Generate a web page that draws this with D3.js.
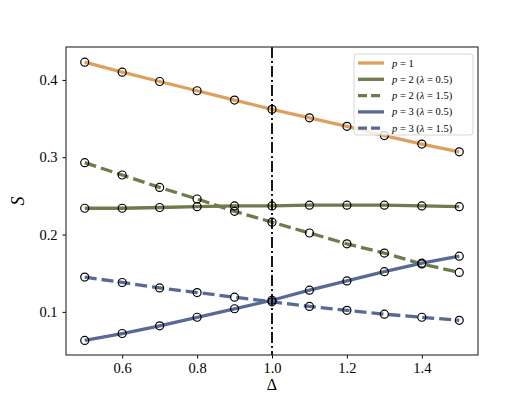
<!DOCTYPE html>
<html>
<head>
<meta charset="utf-8">
<script src="https://d3js.org/d3.v7.min.js"></script>
<style>
  body { margin: 0; background: #fff; }
  svg text { font-family: 'Liberation Serif', 'Times New Roman', serif; fill: #000; }
  .tick text { font-size: 14.5px; }
  .tick line { stroke: #000; }
</style>
</head>
<body>
<svg id="chart"></svg>
<script>
const WIDTH  = 531;
const HEIGHT = 399;
const MARGIN = { top: 47, right: 53, bottom: 44, left: 66 };
const INNER_WIDTH  = WIDTH - MARGIN.left - MARGIN.right;
const INNER_HEIGHT = HEIGHT - MARGIN.top - MARGIN.bottom;
const SERIF = "'Liberation Serif', 'Times New Roman', serif";

// data
const delta = [0.5, 0.6, 0.7, 0.8, 0.9, 1.0, 1.1, 1.2, 1.3, 1.4, 1.5];
const p1        = [0.423, 0.410, 0.398, 0.386, 0.374, 0.362, 0.351, 0.340, 0.328, 0.317, 0.307];
const p2_lam05  = [0.234, 0.234, 0.235, 0.236, 0.237, 0.237, 0.238, 0.238, 0.238, 0.237, 0.236];
const p2_lam15  = [0.293, 0.277, 0.261, 0.246, 0.230, 0.216, 0.202, 0.188, 0.176, 0.162, 0.151];
const p3_lam05  = [0.063, 0.072, 0.082, 0.093, 0.104, 0.115, 0.128, 0.140, 0.152, 0.163, 0.172];
const p3_lam15  = [0.145, 0.138, 0.131, 0.125, 0.119, 0.113, 0.107, 0.102, 0.097, 0.093, 0.089];
const xTicks = [0.6, 0.8, 1.0, 1.2, 1.4];
const yTicks = [0.1, 0.2, 0.3, 0.4];
const vlineX = 1.0;

const series = [
  { name: 'p1',  vals: p1,       color: '#DDA05D', dash: null, p: '1', lam: null },
  { name: 'p2a', vals: p2_lam05, color: '#6E7B4C', dash: null, p: '2', lam: '0.5' },
  { name: 'p2b', vals: p2_lam15, color: '#6E7B4C', dash: '12,5', p: '2', lam: '1.5' },
  { name: 'p3a', vals: p3_lam05, color: '#586A94', dash: null, p: '3', lam: '0.5' },
  { name: 'p3b', vals: p3_lam15, color: '#586A94', dash: '12,5', p: '3', lam: '1.5' }
];

const svg = d3.select('#chart')
  .attr('width', WIDTH)
  .attr('height', HEIGHT)
  .append('g')
    .attr('transform', 'translate(' + MARGIN.left + ',' + MARGIN.top + ')');

const x = d3.scaleLinear().domain([0.45, 1.55]).range([0, INNER_WIDTH]);
const y = d3.scaleLinear().domain([0.0442, 0.4426]).range([INNER_HEIGHT, 0]);

// axes
svg.append('g')
  .attr('class', 'x axis')
  .attr('transform', 'translate(0,' + INNER_HEIGHT + ')')
  .call(d3.axisBottom(x).tickValues(xTicks).tickSize(3.5).tickPadding(4).tickFormat(d3.format('.1f')))
  .attr('font-family', SERIF)
  .call(g => g.select('.domain').remove());

svg.append('g')
  .attr('class', 'y axis')
  .call(d3.axisLeft(y).tickValues(yTicks).tickSize(3.5).tickPadding(5).tickFormat(d3.format('.1f')))
  .attr('font-family', SERIF)
  .call(g => g.select('.domain').remove());

const line = d3.line()
  .x((d, i) => x(delta[i]))
  .y(d => y(d));

series.forEach(s => {
  svg.append('path')
    .datum(s.vals)
    .attr('d', line)
    .attr('fill', 'none')
    .attr('stroke', s.color)
    .attr('stroke-width', 3.3)
    .attr('stroke-dasharray', s.dash);
});

// vertical reference line
svg.append('line')
  .attr('x1', x(vlineX)).attr('x2', x(vlineX))
  .attr('y1', 0).attr('y2', INNER_HEIGHT)
  .attr('stroke', '#000')
  .attr('stroke-width', 1.8)
  .attr('stroke-dasharray', '11,3,2,3');

// markers
series.forEach(s => {
  svg.append('g').selectAll('circle')
    .data(s.vals)
    .enter()
    .append('circle')
      .attr('cx', (d, i) => x(delta[i]))
      .attr('cy', d => y(d))
      .attr('r', 4)
      .attr('fill', 'none')
      .attr('stroke', '#000')
      .attr('stroke-width', 1.2);
});

// frame
svg.append('rect')
  .attr('width', INNER_WIDTH)
  .attr('height', INNER_HEIGHT)
  .attr('fill', 'none')
  .attr('stroke', '#3a3a3a')
  .attr('stroke-width', 1.2);

// axis labels
svg.append('text')
  .attr('x', INNER_WIDTH / 2)
  .attr('y', INNER_HEIGHT + 35)
  .attr('text-anchor', 'middle')
  .style('font-size', '16px')
  .text('Δ');

svg.append('text')
  .attr('transform', 'translate(' + (-42) + ',' + (INNER_HEIGHT / 2) + ') rotate(-90)')
  .attr('text-anchor', 'middle')
  .style('font-size', '18px')
  .style('font-style', 'italic')
  .text('S');

// legend
const legend = svg.append('g')
  .attr('transform', 'translate(' + (354 - MARGIN.left) + ',' + (54 - MARGIN.top) + ')');

legend.append('rect')
  .attr('width', 119)
  .attr('height', 81)
  .attr('rx', 3)
  .attr('fill', '#fff')
  .attr('fill-opacity', 0.8)
  .attr('stroke', '#d6d6d6')
  .attr('stroke-width', 1);

series.forEach((s, i) => {
  const row = legend.append('g').attr('transform', 'translate(0,' + (9 + i * 16.3) + ')');
  row.append('line')
    .attr('x1', 4).attr('x2', 30)
    .attr('stroke', s.color)
    .attr('stroke-width', 3.3)
    .attr('stroke-dasharray', s.dash ? '9,4' : null);
  const t = row.append('text')
    .attr('x', 38)
    .attr('y', 3.5)
    .style('font-size', '10.5px');
  t.append('tspan').style('font-style', 'italic').text('p');
  t.append('tspan').text(' = ' + s.p);
  if (s.lam) {
    t.append('tspan').text(' (');
    t.append('tspan').style('font-style', 'italic').text('λ');
    t.append('tspan').text(' = ' + s.lam + ')');
  }
});
</script>
</body>
</html>
